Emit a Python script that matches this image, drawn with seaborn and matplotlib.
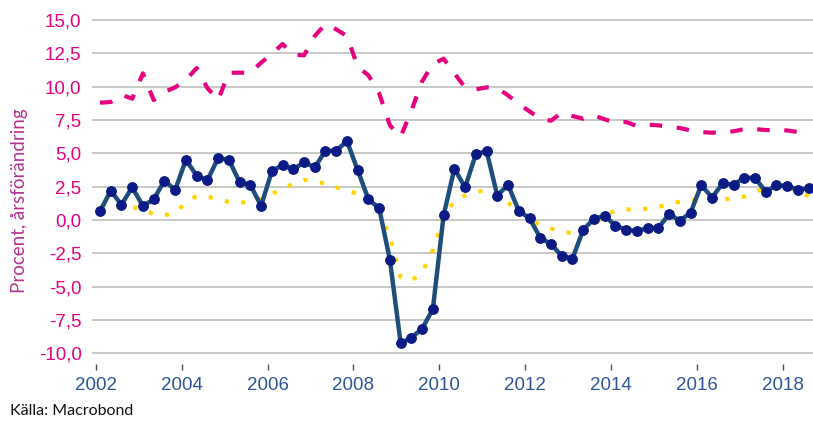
import numpy as np
import pandas as pd
import matplotlib
matplotlib.use("Agg")
import matplotlib.pyplot as plt
import seaborn as sns

# ---- data (quarterly, 2002Q1 .. 2018Q3) ----
quarters = [str(p) for p in pd.period_range("2002Q1", "2018Q3", freq="Q")]

navy_values = [
    0.65, 2.2, 1.15, 2.45, 1.05, 1.55, 2.95, 2.25, 4.52, 3.33,
    2.98, 4.65, 4.52, 2.85, 2.65, 1.05, 3.65, 4.13, 3.8, 4.33,
    3.95, 5.2, 5.2, 5.93, 3.73, 1.55, 0.88, -3.0, -9.25, -8.83,
    -8.15, -6.68, 0.35, 3.85, 2.45, 4.93, 5.18, 1.83, 2.65, 0.68,
    0.13, -1.33, -1.8, -2.7, -2.9, -0.73, 0.08, 0.33, -0.43, -0.73,
    -0.83, -0.6, -0.6, 0.45, -0.05, 0.55, 2.63, 1.68, 2.78, 2.63,
    3.18, 3.15, 2.13, 2.6, 2.55, 2.28, 2.38,
]

yellow_values = [
    1.0, 1.05, 1.0, 0.95, 0.85, 0.4, 0.35, 0.55, 1.3, 1.8,
    1.75, 1.58, 1.35, 1.25, 1.45, 1.6, 1.95, 2.35, 2.7, 3.0,
    2.95, 2.7, 2.45, 2.25, 1.95, 1.45, 0.65, -1.3, -4.3, -4.55,
    -3.95, -2.25, 0.25, 1.45, 1.85, 2.1, 2.25, 1.75, 1.3, 0.75,
    0.1, -0.4, -0.65, -0.85, -1.0, -0.85, -0.35, 0.38, 0.7, 0.8,
    0.78, 0.85, 0.98, 1.2, 1.38, 1.5, 1.5, 1.52, 1.55, 1.62,
    1.75, 2.1, 2.45, 2.6, 2.5, 2.1, 1.8,
]

pink_values = [
    8.8, 8.85, 9.4, 9.1, 11.0, 9.0, 9.6, 9.95, 10.5, 11.4,
    9.9, 9.0, 11.05, 11.05, 11.05, 11.8, 12.45, 13.2, 12.4, 12.35,
    13.8, 14.7, 14.3, 13.8, 11.5, 10.85, 9.5, 7.1, 6.25, 8.2,
    10.4, 11.7, 12.1, 11.0, 9.95, 9.8, 9.95, 9.9, 9.35, 8.7,
    8.15, 7.6, 7.45, 8.05, 7.8, 7.6, 7.85, 7.55, 7.3, 7.35,
    7.05, 7.15, 7.1, 7.0, 6.9, 6.72, 6.6, 6.55, 6.6, 6.65,
    6.82, 6.82, 6.75, 6.73, 6.72, 6.6, 6.4,
]

y_ticks = [-10.0, -7.5, -5.0, -2.5, 0.0, 2.5, 5.0, 7.5, 10.0, 12.5, 15.0]
x_ticks = [2002, 2004, 2006, 2008, 2010, 2012, 2014, 2016, 2018]
y_label = "Procent, årsförändring"
source_text = "Källa: Macrobond"

# ---- build frame ----
per = pd.PeriodIndex(quarters, freq="Q")
xpos = per.year + (per.quarter - 1) * 0.25 + 0.1
df = pd.DataFrame({"x": xpos, "navy": navy_values,
                   "yellow": yellow_values, "pink": pink_values})

sns.set_style("white")
plt.rcParams["font.family"] = ["Liberation Sans", "DejaVu Sans"]

W, H = 813, 421
fig = plt.figure(figsize=(W / 100, H / 100), dpi=100)
ax_left, ax_right, ax_bottom, ax_top = 92, 813, 364, 18.7
ax = fig.add_axes([ax_left / W, 1 - ax_bottom / H,
                   (ax_right - ax_left) / W, (ax_bottom - ax_top) / H])

PINK = "#e6007e"
NAVY_LINE = "#1f4e7c"
NAVY_MARK = "#0b1a84"
YELLOW = "#ffd400"

sns.lineplot(data=df, x="x", y="pink", ax=ax, color=PINK, lw=3,
             linestyle=(0, (3, 3.5)), dash_capstyle="butt", zorder=3)
sns.lineplot(data=df, x="x", y="yellow", ax=ax, color=YELLOW, lw=3,
             linestyle=(0, (1, 3)), dash_capstyle="butt", zorder=4)
sns.lineplot(data=df, x="x", y="navy", ax=ax, color=NAVY_LINE, lw=3.2,
             marker="o", markersize=7, markerfacecolor=NAVY_MARK,
             markeredgecolor=NAVY_MARK, zorder=5)

ax.set_xlim(2001.914, 2018.70)
ax.set_ylim(-10.8, 15.1)

ax.set_yticks(y_ticks)
ax.set_yticklabels([f"{v:.1f}".replace(".", ",") for v in y_ticks],
                   color=PINK, fontsize=13.5)
ax.set_xticks(x_ticks)
ax.set_xticklabels([str(v) for v in x_ticks], color="#2f5597", fontsize=13.5)

ax.grid(axis="y", color="#c4c4c4", lw=1.3)
ax.grid(axis="x", visible=False)
for s in ax.spines.values():
    s.set_visible(False)

ax.tick_params(axis="y", length=4.5, width=1.0, color="#b0b0b0",
               direction="out", pad=3)
ax.tick_params(axis="x", length=4, width=1.0, color="#505050",
               direction="out", pad=5, bottom=True)

ax.set_xlabel("")
ax.set_ylabel("")
fig.text(20 / W, 1 - 201 / H, y_label, rotation=90, ha="center", va="center",
         color="#b5338f", fontsize=13.5, family=["Lato", "DejaVu Sans"])
fig.text(10 / W, 1 - 411 / H, source_text, ha="left", va="center",
         color="#111111", fontsize=11.5, family=["Lato", "DejaVu Sans"])

fig.savefig("out.png", dpi=100)
